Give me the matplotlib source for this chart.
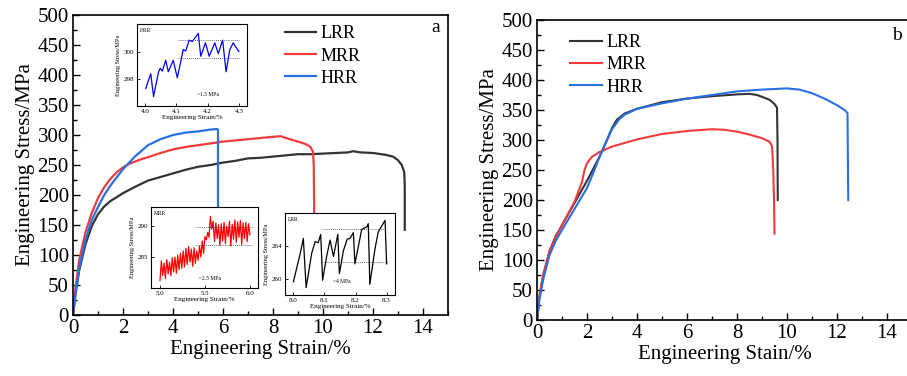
import numpy as np
import matplotlib
matplotlib.use("Agg")
import matplotlib.pyplot as plt
from matplotlib.ticker import MultipleLocator

plt.rcParams['font.family'] = ['Liberation Serif', 'DejaVu Serif']
plt.rcParams['mathtext.fontset'] = 'stix'

# ---- panel a: main curves ----
lrr_a_x = [0, 0.1, 0.25, 0.5, 0.75, 1.0, 1.25, 1.5, 2.0, 2.5, 3.0, 3.5, 4.0, 4.5, 5.0, 5.5, 6.0, 6.5,
           7.0, 7.5, 8.0, 8.5, 9.0, 9.5, 10.0, 10.5, 11.0, 11.2, 11.5, 12.0, 12.5, 12.8, 13.0, 13.15,
           13.25, 13.27, 13.27]
lrr_a_y = [0, 35, 75, 118, 148, 168, 181, 190, 203, 214, 224, 230, 236, 242, 247, 250, 254, 257,
           261, 262, 264, 266, 268, 268, 269, 270, 271, 273, 271, 270, 267, 264, 258, 250,
           238, 215, 142]
mrr_a_x = [0, 0.1, 0.25, 0.5, 0.75, 1.0, 1.25, 1.5, 1.75, 2.0, 2.25, 2.5, 2.75, 3.0, 3.5, 4.0, 4.5,
           5.0, 5.5, 6.0, 6.5, 7.0, 7.5, 8.0, 8.3, 8.6, 9.0, 9.3, 9.5, 9.6, 9.63, 9.65]
mrr_a_y = [0, 45, 92, 138, 170, 195, 213, 227, 238, 246, 252, 256, 260, 263, 270, 276, 280,
           283, 286, 289, 291, 293, 295, 297, 298, 294, 289, 285, 280, 272, 250, 156]
hrr_a_x = [0, 0.1, 0.25, 0.5, 0.75, 1.0, 1.25, 1.5, 2.0, 2.5, 3.0, 3.5, 4.0, 4.5, 5.0, 5.5, 5.75,
           5.8, 5.8]
hrr_a_y = [0, 35, 78, 125, 158, 180, 200, 216, 243, 265, 283, 293, 300, 304, 306, 309, 310,
           309, 180]

# ---- panel b ----
lrr_b_x = [0, 0.1, 0.25, 0.5, 0.75, 1.0, 1.5, 2.0, 2.5, 2.8, 3.0, 3.2, 3.5, 4.0, 5.0, 6.0, 7.0,
           8.0, 8.5, 8.8, 9.0, 9.3, 9.5, 9.6, 9.62, 9.63]
lrr_b_y = [0, 40, 75, 115, 140, 158, 195, 232, 272, 300, 320, 334, 344, 352, 363, 369, 373,
           376, 377, 375, 372, 367, 360, 354, 300, 200]
mrr_b_x = [0, 0.1, 0.25, 0.5, 0.75, 1.0, 1.5, 1.8, 1.9, 2.0, 2.1, 2.2, 2.5, 3.0, 3.5, 4.0, 5.0,
           6.0, 7.0, 7.5, 8.0, 8.5, 9.0, 9.3, 9.4, 9.42, 9.45, 9.48, 9.5]
mrr_b_y = [0, 40, 75, 115, 138, 158, 197, 230, 250, 261, 267, 272, 280, 289, 295, 301, 310,
           315, 318, 317, 314, 309, 303, 297, 290, 275, 250, 200, 144]
hrr_b_x = [0, 0.1, 0.25, 0.5, 0.75, 1.0, 1.5, 2.0, 2.3, 2.5, 2.8, 3.0, 3.3, 3.5, 4.0, 5.0, 6.0,
           7.0, 8.0, 9.0, 10.0, 10.5, 11.0, 11.5, 12.0, 12.3, 12.42, 12.45]
hrr_b_y = [0, 35, 68, 108, 132, 150, 185, 220, 250, 272, 300, 318, 335, 342, 352, 361, 369,
           375, 381, 384, 386, 384, 378, 369, 358, 350, 345, 200]

# ---- insets ----
hrr_in_x = [4.002, 4.018, 4.027, 4.043, 4.048, 4.055, 4.066, 4.074, 4.09, 4.103, 4.122, 4.13,
            4.141, 4.151, 4.17, 4.178, 4.193, 4.205, 4.223, 4.234, 4.248, 4.259, 4.271, 4.282,
            4.29, 4.3]
hrr_in_y = [297.3, 298.4, 296.7, 298.55, 298.8, 298.6, 299.4, 298.55, 299.4, 298.1, 300.2, 300.1,
            300.9, 300.8, 301.4, 299.7, 300.7, 299.7, 300.7, 299.9, 300.9, 298.55, 300.2, 300.7,
            300.4, 300.05]
mrr_in_y = [281.2, 284.4, 282.0, 284.0, 281.5, 284.6, 282.3, 284.2, 282.0, 284.9, 282.6, 285.0,
            282.4, 285.3, 283.0, 285.6, 283.2, 286.0, 283.4, 286.4, 283.8, 286.7, 284.2, 286.3,
            283.5, 286.5, 284.0, 286.0, 284.5, 286.8, 285.0, 287.6, 285.6, 288.3,
            287.8, 289.0, 288.2, 291.6, 289.5, 290.8, 287.5, 290.5, 288.0, 290.2, 286.9, 290.4,
            287.6, 290.6, 287.2, 290.0, 288.3, 290.8, 286.8, 290.3, 287.9, 291.0, 287.4, 290.7,
            288.2, 290.9, 287.0, 290.5, 288.0, 290.6, 287.5, 290.4, 288.6]
mrr_in_x = np.linspace(5.0, 6.0, len(mrr_in_y))
lrr_in_x = [8.0, 8.021, 8.032, 8.041, 8.059, 8.07, 8.08, 8.088, 8.094, 8.107, 8.118, 8.129, 8.143,
            8.148, 8.161, 8.173, 8.182, 8.193, 8.198, 8.211, 8.22, 8.236, 8.241, 8.246, 8.262,
            8.273, 8.295, 8.3]
lrr_in_y = [259.6, 262.9, 264.9, 258.9, 263.1, 264.5, 264.4, 265.4, 259.8, 262.7, 264.7, 262.7,
            265.4, 260.6, 263.4, 264.8, 264.9, 265.6, 261.8, 264.3, 266.0, 266.3, 266.7, 259.3,
            263.5, 265.7, 267.1, 261.8]

c_l, c_m, c_h = '#333333', '#ee3b3b', '#2a6fe2'
labels = ['LRR', 'MRR', 'HRR']

fig = plt.figure(figsize=(9.07, 3.76), dpi=100)
axa = fig.add_axes([73/907, 61/376, 375/907, 300/376])
axb = fig.add_axes([537/907, 56/376, 375/907, 300/376])


def style_main(ax):
    ax.set_xlim(0, 15)
    ax.set_ylim(0, 500)
    ax.xaxis.set_major_locator(MultipleLocator(2))
    ax.xaxis.set_minor_locator(MultipleLocator(1))
    ax.yaxis.set_major_locator(MultipleLocator(50))
    ax.yaxis.set_minor_locator(MultipleLocator(25))
    ax.tick_params(which='both', direction='in', top=False, right=False, labelsize=15, pad=3)
    ax.tick_params(which='major', length=5, width=1)
    ax.tick_params(which='minor', length=3, width=1)
    for s in ax.spines.values():
        s.set_linewidth(1.2)
    ax.set_ylabel('Engineering Stress/MPa', fontsize=15, labelpad=2)


style_main(axa)
axa.plot(lrr_a_x, lrr_a_y, color=c_l, lw=1.6, label=labels[0])
axa.plot(mrr_a_x, mrr_a_y, color=c_m, lw=1.6, label=labels[1])
axa.plot(hrr_a_x, hrr_a_y, color=c_h, lw=1.6, label=labels[2])
axa.set_xlabel('Engineering Strain/%', fontsize=15, labelpad=1)
axa.legend(loc='upper left', bbox_to_anchor=(0.565, 0.965), frameon=False, fontsize=13,
           handlelength=1.75, handletextpad=0.25, labelspacing=0.28, borderpad=0, borderaxespad=0)
axa.text(436/907, 1 - 28/376, 'a', transform=fig.transFigure, fontsize=14, ha='center', va='center')

style_main(axb)
axb.plot(lrr_b_x, lrr_b_y, color=c_l, lw=1.5, label=labels[0])
axb.plot(mrr_b_x, mrr_b_y, color=c_m, lw=1.5, label=labels[1])
axb.plot(hrr_b_x, hrr_b_y, color=c_h, lw=1.5, label=labels[2])
axb.set_xlabel('Engineering Stain/%', fontsize=15, labelpad=1)
axb.legend(loc='upper left', bbox_to_anchor=(0.088, 0.952), frameon=False, fontsize=13,
           handlelength=1.75, handletextpad=0.25, labelspacing=0.28, borderpad=0, borderaxespad=0)
axb.text(897/907, 1 - 35/376, 'b', transform=fig.transFigure, fontsize=14, ha='center', va='center')


def inset(rect, x, y, color, name, xlim, ylim, xt, yt, dots, dx, note, nxy):
    ax = fig.add_axes(rect)
    ax.set_facecolor('white')
    ax.plot(x, y, color=color, lw=0.9)
    for d in dots:
        ax.plot(dx, [d, d], color='#333333', lw=0.6, ls=(0, (1, 1.5)))
    ax.set_xlim(*xlim)
    ax.set_ylim(*ylim)
    ax.set_xticks(xt)
    ax.set_yticks(yt)
    ax.tick_params(direction='in', labelsize=5, length=2, width=0.6, pad=2)
    for s in ax.spines.values():
        s.set_linewidth(0.8)
    ax.set_xlabel('Engineering Strain/%', fontsize=5, labelpad=1)
    ax.set_ylabel('Engineering Stress/MPa', fontsize=4.5, labelpad=2)
    ax.text(0.03, 0.95, name, transform=ax.transAxes, fontsize=4, va='top')
    ax.text(nxy[0], nxy[1], note, fontsize=4, ha='center', va='center')
    return ax


inset([137/907, 1 - 106/376, 110/907, 82/376], hrr_in_x, hrr_in_y, '#0000ff', 'HRR',
      (3.974, 4.326), (296.0, 302.1), [4.0, 4.1, 4.2, 4.3], [298, 300],
      [300.9, 299.55], [4.106, 4.3], '~1.5 MPa', (4.2, 296.85))
inset([151/907, 1 - 288/376, 107/907, 81/376], mrr_in_x, mrr_in_y, '#ff0000', 'MRR',
      (4.9, 6.09), (280.0, 293.1), [5.0, 5.5, 6.0], [285, 290],
      [289.9, 287.0], [5.39, 6.02], '~2.5 MPa', (5.55, 281.6))
inset([285/907, 1 - 295/376, 110/907, 82/376], lrr_in_x, lrr_in_y, '#000000', 'LRR',
      (7.973, 8.327), (258.0, 268.0), [8.0, 8.1, 8.2, 8.3], [260, 264],
      [266.1, 262.0], [8.091, 8.3], '~4 MPa', (8.155, 259.6))

fig.savefig('out.png', dpi=100)
